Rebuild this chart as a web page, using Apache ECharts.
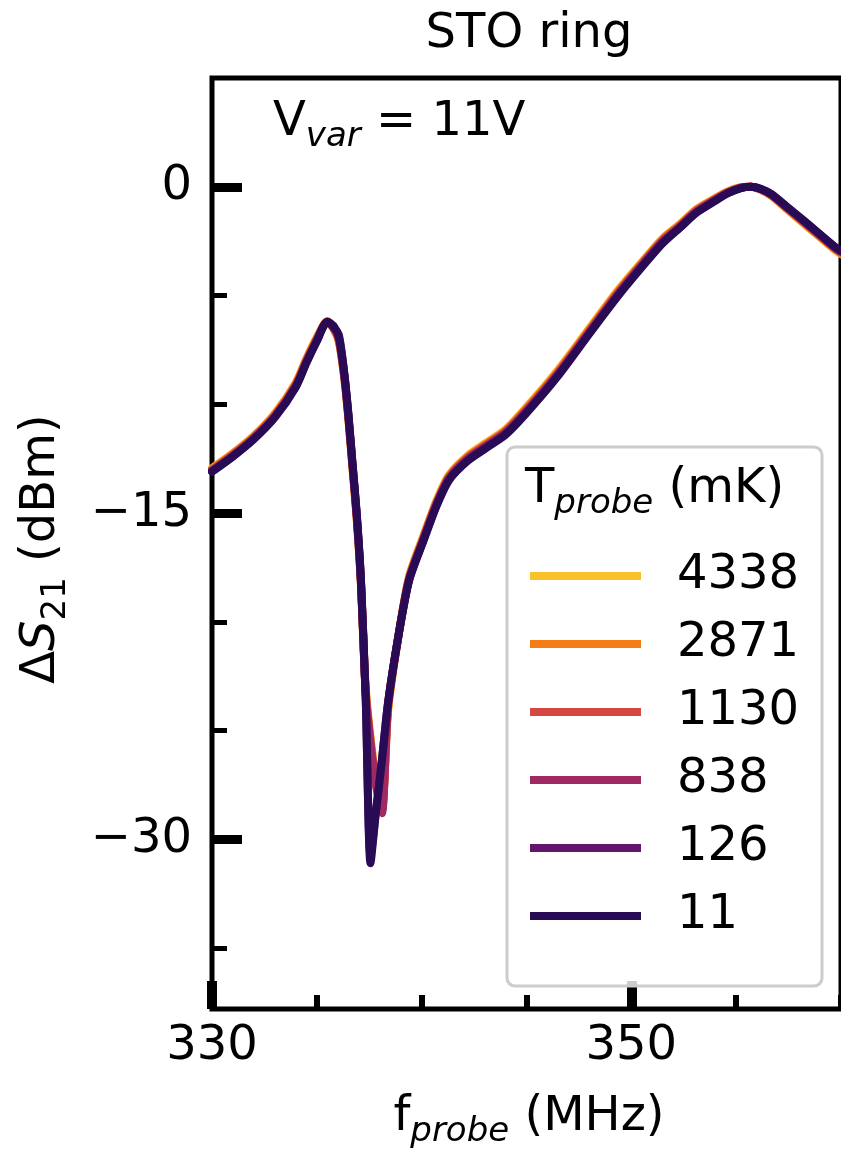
<!DOCTYPE html>
<html>
<head>
<meta charset="utf-8">
<script src="https://cdn.jsdelivr.net/npm/echarts@6/dist/echarts.min.js"></script>
<style>
  html, body { margin: 0; padding: 0; background: #ffffff; }
  #chart { width: 841px; height: 1149px; }
</style>
</head>
<body>
<div id="chart"></div>
<script>
// Probe frequency grid (MHz)
const freq = [330.0, 331.0, 332.0, 333.0, 334.0, 334.5, 335.0, 335.5, 335.8, 336.05,
              336.3, 336.5, 336.7, 336.9, 337.1, 337.33, 337.56, 337.8, 338.1, 338.4,
              338.9, 339.4, 340.1, 340.7, 341.3, 342.2, 343.1, 344.0, 345.0, 346.5,
              348.0, 349.3, 350.5, 351.5, 352.3, 353.1, 354.0, 354.6, 355.2, 355.7,
              356.2, 356.7, 357.4, 358.1, 358.9, 359.7, 360.0];

// ΔS21 (dBm) for each probe temperature
const t4338 = [-12.94, -12.24, -11.44, -10.42, -9.0, -7.9, -6.92, -6.17, -6.55, -7.15,
               -8.75, -10.65, -12.95, -15.25, -18.25, -23.0, -25.3, -27.1, -28.5, -24.1,
               -20.6, -17.9, -16.0, -14.45, -13.25, -12.35, -11.75, -11.15, -10.12, -8.42,
               -6.5, -4.83, -3.46, -2.36, -1.73, -1.03, -0.52, -0.21, -0.02, 0.0,
               -0.15, -0.44, -1.02, -1.6, -2.25, -2.9, -3.1];
const t2871 = [-12.97, -12.27, -11.47, -10.45, -9.03, -7.93, -6.95, -6.18, -6.52, -7.1,
               -8.7, -10.6, -12.9, -15.2, -18.2, -23.1, -25.4, -27.2, -28.6, -24.0,
               -20.6, -17.95, -16.05, -14.5, -13.3, -12.4, -11.8, -11.2, -10.18, -8.48,
               -6.56, -4.88, -3.5, -2.4, -1.76, -1.06, -0.54, -0.23, -0.03, 0.0,
               -0.14, -0.42, -1.0, -1.57, -2.22, -2.87, -3.07];
const t1130 = [-13.02, -12.32, -11.52, -10.52, -9.1, -8.0, -7.0, -6.2, -6.5, -7.05,
               -8.65, -10.55, -12.85, -15.15, -18.15, -23.2, -25.5, -27.3, -28.7, -23.9,
               -20.6, -18.0, -16.1, -14.55, -13.35, -12.45, -11.85, -11.25, -10.25, -8.55,
               -6.62, -4.95, -3.55, -2.45, -1.8, -1.1, -0.57, -0.25, -0.04, 0.0,
               -0.13, -0.4, -0.97, -1.53, -2.18, -2.83, -3.03];
const t838 = [-13.05, -12.35, -11.55, -10.55, -9.15, -8.05, -7.05, -6.2, -6.45, -7.0,
              -8.6, -10.5, -12.8, -15.1, -18.1, -23.3, -25.6, -27.4, -28.8, -23.8,
              -20.6, -18.05, -16.15, -14.6, -13.4, -12.5, -11.9, -11.3, -10.3, -8.6,
              -6.68, -5.0, -3.6, -2.5, -1.85, -1.15, -0.6, -0.27, -0.05, 0.0,
              -0.12, -0.38, -0.94, -1.5, -2.15, -2.8, -3.0];
const t126 = [-13.08, -12.38, -11.58, -10.58, -9.18, -8.08, -7.08, -6.2, -6.5, -6.8,
              -8.5, -10.4, -12.7, -15.0, -18.0, -23.5, -30.8, -28.9, -26.4, -23.7,
              -20.6, -18.1, -16.2, -14.65, -13.45, -12.55, -11.95, -11.35, -10.35, -8.65,
              -6.73, -5.05, -3.65, -2.55, -1.88, -1.18, -0.63, -0.29, -0.06, 0.0,
              -0.11, -0.36, -0.92, -1.47, -2.12, -2.77, -2.97];
const t11 = [-13.1, -12.4, -11.6, -10.6, -9.2, -8.1, -7.1, -6.2, -6.4, -6.9,
             -8.5, -10.4, -12.7, -15.0, -18.0, -23.5, -31.1, -28.9, -26.4, -23.7,
             -20.6, -18.1, -16.25, -14.7, -13.5, -12.6, -12.0, -11.4, -10.4, -8.7,
             -6.75, -5.1, -3.7, -2.6, -1.9, -1.2, -0.65, -0.3, -0.07, 0.0,
             -0.1, -0.35, -0.9, -1.45, -2.1, -2.75, -2.95];

const tempLabels = ['4338', '2871', '1130', '838', '126', '11'];
const tempValues = [t4338, t2871, t1130, t838, t126, t11];
const tempColors = ['#fac228', '#f57d15', '#d44842', '#9f2a63', '#65156e', '#280b54'];

// Tick positions
const xMajorTicks = [330, 350];
const xMinorTicks = [335, 340, 345, 355, 360];
const yMajorTicks = [-30, -15, 0];
const yMinorTicks = [-35, -25, -20, -10, -5];

const FONT = 'DejaVu Sans';
const richText = {
  m: { fontSize: 48, fontFamily: FONT, fill: '#000', lineHeight: 66 },
  i: { fontSize: 48, fontFamily: FONT, fontStyle: 'italic', fill: '#000', lineHeight: 66 },
  s: { fontSize: 34, fontFamily: FONT, fontStyle: 'italic', fill: '#000', lineHeight: 34, padding: [28, 0, 0, 0] },
  n: { fontSize: 34, fontFamily: FONT, fill: '#000', lineHeight: 34, padding: [28, 0, 0, 0] }
};

const minusFmt = v => (v < 0 ? '\u2212' + (-v) : String(v));

const chart = echarts.init(document.getElementById('chart'), null, { renderer: 'canvas' });

const series = tempLabels.map((name, k) => ({
  name: name,
  type: 'line',
  xAxisIndex: 0,
  yAxisIndex: 0,
  data: freq.map((f, i) => [f, tempValues[k][i]]),
  symbol: 'none',
  showSymbol: false,
  smooth: 0.25,
  clip: true,
  lineStyle: { width: 8, color: tempColors[k], join: 'round', cap: 'round' },
  itemStyle: { color: tempColors[k] },
  z: 2
}));

const axisFont = { fontSize: 48, fontFamily: FONT, color: '#000' };

chart.setOption({
  animation: false,
  backgroundColor: '#ffffff',
  grid: {
    left: 212, top: 78, width: 635, height: 931,
    show: true, borderColor: '#000', borderWidth: 5, backgroundColor: 'transparent'
  },
  xAxis: [
    {
      type: 'value', min: 330, max: 360, position: 'bottom', offset: 0,
      axisLine: { show: false, onZero: false },
      splitLine: { show: false },
      axisTick: { show: true, inside: true, length: 28, lineStyle: { color: '#000', width: 10 }, customValues: xMajorTicks },
      axisLabel: Object.assign({ customValues: xMajorTicks, margin: 14 }, axisFont)
    },
    {
      type: 'value', min: 330, max: 360, position: 'bottom', offset: 0,
      axisLine: { show: false, onZero: false },
      splitLine: { show: false },
      axisTick: { show: true, inside: true, length: 14, lineStyle: { color: '#000', width: 6 }, customValues: xMinorTicks },
      axisLabel: { show: false }
    }
  ],
  yAxis: [
    {
      type: 'value', min: -37.8, max: 5, position: 'left', offset: 0,
      axisLine: { show: false, onZero: false },
      splitLine: { show: false },
      axisTick: { show: true, inside: true, length: 30, lineStyle: { color: '#000', width: 9 }, customValues: yMajorTicks },
      axisLabel: Object.assign({ customValues: yMajorTicks, margin: 20, formatter: minusFmt }, axisFont)
    },
    {
      type: 'value', min: -37.8, max: 5, position: 'left', offset: 0,
      axisLine: { show: false, onZero: false },
      splitLine: { show: false },
      axisTick: { show: true, inside: true, length: 15, lineStyle: { color: '#000', width: 5 }, customValues: yMinorTicks },
      axisLabel: { show: false }
    }
  ],
  legend: {
    orient: 'vertical',
    left: 525, top: 537,
    itemWidth: 111, itemHeight: 8, itemGap: 0,
    icon: 'rect',
    selectedMode: false,
    data: tempLabels,
    textStyle: { fontSize: 48, fontFamily: FONT, color: '#000', lineHeight: 68, padding: [0, 0, 0, 31] },
    z: 10
  },
  graphic: [
    {
      type: 'rect', z: 5,
      shape: { x: 507, y: 447, width: 315, height: 539, r: 8 },
      style: { fill: 'rgba(255,255,255,0.8)', stroke: '#cccccc', lineWidth: 3 }
    },
    {
      type: 'text', z: 11, x: 525, y: 490,
      style: { text: '{m|T}{s|probe}{m| (mK)}', rich: richText, align: 'left', verticalAlign: 'middle' }
    },
    {
      type: 'text', z: 11, x: 529, y: 35,
      style: { text: 'STO ring', fontSize: 48, fontFamily: FONT, fill: '#000', align: 'center', verticalAlign: 'middle' }
    },
    {
      type: 'text', z: 11, x: 273, y: 123,
      style: { text: '{m|V}{s|var}{m| = 11V}', rich: richText, align: 'left', verticalAlign: 'middle' }
    },
    {
      type: 'text', z: 11, x: 529, y: 1118,
      style: { text: '{m|f}{s|probe}{m| (MHz)}', rich: richText, align: 'center', verticalAlign: 'middle' }
    },
    {
      type: 'text', z: 11, x: 42, y: 549, rotation: Math.PI / 2,
      style: { text: '{m|\u0394}{i|S}{n|21}{m| (dBm)}', rich: richText, align: 'center', verticalAlign: 'middle' }
    }
  ],
  series: series
});
</script>
</body>
</html>
